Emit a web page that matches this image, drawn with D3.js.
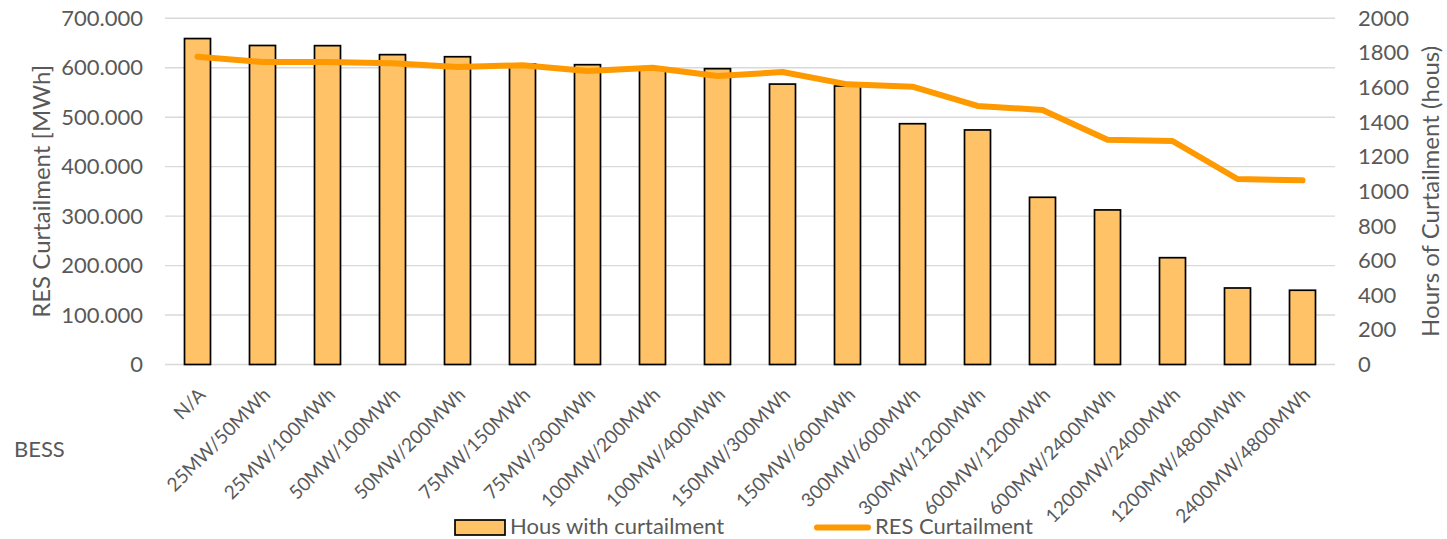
<!DOCTYPE html>
<html>
<head>
<meta charset="utf-8">
<script src="https://cdn.jsdelivr.net/npm/d3@7"></script>
<style>
  html, body { margin: 0; padding: 0; background: #ffffff; }
  svg { display: block; }
  text { font-family: Lato, "Open Sans", sans-serif; fill: #595959; }
</style>
</head>
<body>
<svg id="chart" width="1447" height="539"></svg>
<script>
// BESS configurations (power / energy)
const categories = [
  "N/A", "25MW/50MWh", "25MW/100MWh", "50MW/100MWh", "50MW/200MWh",
  "75MW/150MWh", "75MW/300MWh", "100MW/200MWh", "100MW/400MWh",
  "150MW/300MWh", "150MW/600MWh", "300MW/600MWh", "300MW/1200MWh",
  "600MW/1200MWh", "600MW/2400MWh", "1200MW/2400MWh", "1200MW/4800MWh",
  "2400MW/4800MWh"
];

// Hours with curtailment (right axis)
const hoursCurtailed = [
  1883, 1843, 1842, 1790, 1778, 1736, 1732, 1713, 1709,
  1620, 1609, 1391, 1355, 966, 893, 617, 442, 429
];

// RES curtailment in MWh (left axis)
const resCurtailment = [
  622400, 611600, 611600, 609000, 601500, 605000, 593400, 600100, 583300,
  591400, 566500, 561700, 522700, 514600, 454500, 451900, 375100, 372400
];

const leftTicks = [0, 100000, 200000, 300000, 400000, 500000, 600000, 700000];
const rightTicks = [0, 200, 400, 600, 800, 1000, 1200, 1400, 1600, 1800, 2000];

const seriesNames = ["Hous with curtailment", "RES Curtailment"];
const leftTitle = "RES Curtailment [MWh]";
const rightTitle = "Hours of Curtailment (hous)";
const xTitle = "BESS";

const barFill = "#FFC266";
const lineColor = "#FF9900";
const gridColor = "#D9D9D9";

const svg = d3.select("#chart");
const plot = { left: 165, right: 1335, top: 18.3, bottom: 364.5 };

const x = d3.scaleBand()
  .domain(categories)
  .range([plot.left, plot.right])
  .paddingInner(0.6)
  .paddingOuter(0.3);

const yLeft = d3.scaleLinear().domain([0, 700000]).range([plot.bottom, plot.top]);
const yRight = d3.scaleLinear().domain([0, 2000]).range([plot.bottom, plot.top]);

const dotLocale = d3.formatLocale({ decimal: ",", thousands: ".", grouping: [3], currency: ["", ""] });
const fmtLeft = dotLocale.format(",.0f");

// gridlines
svg.append("g")
  .selectAll("line")
  .data(leftTicks)
  .join("line")
  .attr("x1", plot.left).attr("x2", plot.right)
  .attr("y1", d => yLeft(d)).attr("y2", d => yLeft(d))
  .attr("stroke", gridColor).attr("stroke-width", 1.4);

// left axis
const gLeft = svg.append("g")
  .attr("transform", `translate(${plot.left},0)`)
  .call(d3.axisLeft(yLeft).tickValues(leftTicks).tickFormat(fmtLeft).tickSize(0).tickPadding(22));
gLeft.select(".domain").remove();
gLeft.selectAll("text").style("font-size", "22px").style("font-family", "Lato").attr("fill", "#595959");

// right axis
const gRight = svg.append("g")
  .attr("transform", `translate(${plot.right},0)`)
  .call(d3.axisRight(yRight).tickValues(rightTicks).tickFormat(d3.format("d")).tickSize(0).tickPadding(23));
gRight.select(".domain").remove();
gRight.selectAll("text").style("font-size", "22px").style("font-family", "Lato").attr("fill", "#595959");

// bars
svg.append("g")
  .selectAll("rect")
  .data(categories)
  .join("rect")
  .attr("x", d => x(d))
  .attr("width", x.bandwidth())
  .attr("y", (d, i) => yRight(hoursCurtailed[i]))
  .attr("height", (d, i) => plot.bottom - yRight(hoursCurtailed[i]))
  .attr("fill", barFill)
  .attr("stroke", "#000000")
  .attr("stroke-width", 1.7);

// line
const line = d3.line()
  .x((d, i) => x(categories[i]) + x.bandwidth() / 2)
  .y(d => yLeft(d));

svg.append("path")
  .datum(resCurtailment)
  .attr("d", line)
  .attr("fill", "none")
  .attr("stroke", lineColor)
  .attr("stroke-width", 6)
  .attr("stroke-linejoin", "round")
  .attr("stroke-linecap", "round");

// category labels, rotated
svg.append("g")
  .selectAll("text")
  .data(categories)
  .join("text")
  .attr("transform", d => `translate(${x(d) + x.bandwidth() / 2 + 9},${396}) rotate(-45)`)
  .attr("text-anchor", "end")
  .style("font-size", "19px")
  .text(d => d);

// axis titles
svg.append("text")
  .attr("transform", `translate(50,${(plot.top + plot.bottom) / 2}) rotate(-90)`)
  .attr("text-anchor", "middle")
  .style("font-size", "24px")
  .text(leftTitle);

svg.append("text")
  .attr("transform", `translate(1439,${(plot.top + plot.bottom) / 2}) rotate(-90)`)
  .attr("text-anchor", "middle")
  .style("font-size", "24px")
  .text(rightTitle);

svg.append("text")
  .attr("x", 14).attr("y", 457)
  .style("font-size", "22px")
  .text(xTitle);

// legend
const legend = svg.append("g");
legend.append("rect")
  .attr("x", 455).attr("y", 520).attr("width", 50).attr("height", 15)
  .attr("fill", barFill).attr("stroke", "#000000").attr("stroke-width", 1.7);
legend.append("text")
  .attr("x", 510).attr("y", 534)
  .style("font-size", "22px")
  .text(seriesNames[0]);
legend.append("line")
  .attr("x1", 817).attr("x2", 868).attr("y1", 527.5).attr("y2", 527.5)
  .attr("stroke", lineColor).attr("stroke-width", 6).attr("stroke-linecap", "round");
legend.append("text")
  .attr("x", 875).attr("y", 534)
  .style("font-size", "22px")
  .text(seriesNames[1]);
</script>
</body>
</html>
